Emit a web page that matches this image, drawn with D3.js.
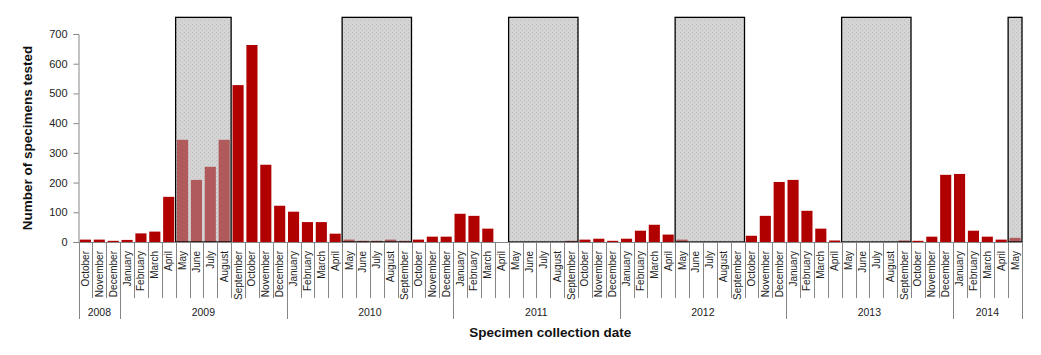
<!DOCTYPE html>
<html>
<head>
<meta charset="utf-8">
<script src="https://cdn.jsdelivr.net/npm/d3@7"></script>
<style>
  html, body { margin: 0; padding: 0; background: #fff; }
  svg { display: block; font-family: "Liberation Sans", Arial, sans-serif; }
</style>
</head>
<body>
<svg id="chart" width="1041" height="355"></svg>
<script>
// ---- data ----
const yearLabels = ["2008", "2009", "2010", "2011", "2012", "2013", "2014"];
const monthsPerYear = [3, 12, 12, 12, 12, 12, 5];
const firstMonthOfYear = [10, 1, 1, 1, 1, 1, 1];
const monthNames = ["January", "February", "March", "April", "May", "June", "July",
  "August", "September", "October", "November", "December"];

const counts = [
  // 2008 Oct-Dec
  8, 8, 4,
  // 2009
  7, 29, 35, 152, 344, 209, 253, 344, 528, 663, 260, 122,
  // 2010
  102, 67, 67, 28, 8, 4, 4, 8, 4, 8, 18, 18,
  // 2011
  95, 88, 45, 0, 0, 0, 0, 0, 4, 8, 11, 4,
  // 2012
  11, 38, 58, 25, 8, 0, 0, 0, 0, 21, 88, 202,
  // 2013
  209, 105, 45, 5, 0, 0, 0, 0, 5, 4, 18, 226,
  // 2014 Jan-May
  229, 38, 18, 8, 14
];

const shadeStart = ["2009-05", "2010-05", "2011-05", "2012-05", "2013-05", "2014-05"];
const shadeEnd   = ["2009-08", "2010-09", "2011-09", "2012-09", "2013-09", "2014-05"];
const shadeTop = 756;

const yTicks = [0, 100, 200, 300, 400, 500, 600, 700];

(function () {
// ---- build month keys ----
const keys = [], keyMonth = {};
yearLabels.forEach((yl, yi) => {
  for (let k = 0; k < monthsPerYear[yi]; k++) {
    const m = firstMonthOfYear[yi] + k;
    const key = yl + "-" + String(m).padStart(2, "0");
    keys.push(key);
    keyMonth[key] = monthNames[m - 1];
  }
});
const data = keys.map((k, i) => ({ key: k, value: counts[i] }));

// ---- layout ----
const svg = d3.select("#chart");
const pLeft = 78.5, pRight = 1022, pTop = 34, pBottom = 242;

const x = d3.scaleBand().domain(keys).range([pLeft, pRight])
  .paddingInner(0.2).paddingOuter(0.1);
const step = x.step();
const bound = k => x(k) - step * 0.1; // left edge of the slot
const y = d3.scaleLinear().domain([0, 700]).range([pBottom, pTop]);

// pattern for shading
const defs = svg.append("defs");
const pat = defs.append("pattern").attr("id", "dots")
  .attr("width", 4).attr("height", 4).attr("patternUnits", "userSpaceOnUse");
pat.append("rect").attr("width", 4).attr("height", 4).attr("fill", "#d4d4d4");
pat.append("rect").attr("x", 0).attr("y", 0).attr("width", 1).attr("height", 1).attr("fill", "#bcbcbc");
pat.append("rect").attr("x", 2).attr("y", 2).attr("width", 1).attr("height", 1).attr("fill", "#c4c4c4");

const periods = shadeStart.map((s, i) => ({ s, e: shadeEnd[i] }));
const inShade = k => periods.some(p => k >= p.s && k <= p.e);

// shading fill
svg.append("g").selectAll("rect").data(periods).join("rect")
  .attr("x", d => bound(d.s))
  .attr("width", d => bound(d.e) + step - bound(d.s))
  .attr("y", y(shadeTop))
  .attr("height", y(0) - y(shadeTop))
  .attr("fill", "url(#dots)");

// bars
svg.append("g").selectAll("rect").data(data).join("rect")
  .attr("x", d => x(d.key))
  .attr("width", x.bandwidth())
  .attr("y", d => y(d.value))
  .attr("height", d => y(0) - y(d.value))
  .attr("fill", d => inShade(d.key) ? "#b05a5c" : "#b00000");

// shading borders
svg.append("g").selectAll("rect").data(periods).join("rect")
  .attr("x", d => bound(d.s))
  .attr("width", d => bound(d.e) + step - bound(d.s))
  .attr("y", y(shadeTop))
  .attr("height", y(0) - y(shadeTop))
  .attr("fill", "none")
  .attr("stroke", "#000")
  .attr("stroke-width", 1.3);

// y axis
const yAxis = svg.append("g").attr("transform", `translate(${pLeft},0)`)
  .call(d3.axisLeft(y).tickValues(yTicks).tickSize(5).tickPadding(6));
yAxis.select(".domain").attr("stroke", "#868686");
yAxis.selectAll(".tick line").attr("stroke", "#868686");
yAxis.selectAll(".tick text").attr("font-size", 11).attr("fill", "#222")
  .attr("font-family", "Liberation Sans, Arial, sans-serif");

// x axis (month labels)
const xAxis = svg.append("g").attr("transform", `translate(0,${pBottom})`)
  .call(d3.axisBottom(x).tickSize(0).tickFormat(k => keyMonth[k]));
xAxis.select(".domain").remove();
xAxis.selectAll(".tick text")
  .attr("font-size", 10)
  .attr("fill", "#222")
  .attr("font-family", "Liberation Sans, Arial, sans-serif")
  .attr("transform", "rotate(-90)")
  .attr("text-anchor", "end")
  .attr("x", -9)
  .attr("y", 0)
  .attr("dy", "0.35em");

// baseline
svg.append("line").attr("x1", pLeft).attr("x2", pRight)
  .attr("y1", pBottom + 0.5).attr("y2", pBottom + 0.5)
  .attr("stroke", "#868686");

// separators
const yearStartKeys = new Set();
let idx = 0;
monthsPerYear.forEach(n => { yearStartKeys.add(keys[idx]); idx += n; });
const seps = keys.map(k => ({ xpos: bound(k), year: yearStartKeys.has(k) }));
seps.push({ xpos: bound(keys[keys.length - 1]) + step, year: true });
svg.append("g").selectAll("line").data(seps).join("line")
  .attr("x1", d => Math.round(d.xpos) + 0.5).attr("x2", d => Math.round(d.xpos) + 0.5)
  .attr("y1", pBottom).attr("y2", d => d.year ? 319 : 298)
  .attr("stroke", "#868686").attr("stroke-width", 1);

// year labels
idx = 0;
const yearPos = yearLabels.map((yl, i) => {
  const a = bound(keys[idx]);
  const b = bound(keys[idx + monthsPerYear[i] - 1]) + step;
  idx += monthsPerYear[i];
  return { yl, cx: (a + b) / 2 };
});
svg.append("g").selectAll("text").data(yearPos).join("text")
  .attr("x", d => d.cx).attr("y", 316)
  .attr("text-anchor", "middle")
  .attr("font-size", 10.5).attr("fill", "#222")
  .text(d => d.yl);

// titles
svg.append("text")
  .attr("x", (pLeft + pRight) / 2).attr("y", 337)
  .attr("text-anchor", "middle")
  .attr("font-size", 13.5).attr("font-weight", "bold").attr("fill", "#111")
  .text("Specimen collection date");

svg.append("text")
  .attr("transform", `translate(32,${(pTop + pBottom) / 2}) rotate(-90)`)
  .attr("text-anchor", "middle")
  .attr("font-size", 13.5).attr("font-weight", "bold").attr("fill", "#111")
  .text("Number of specimens tested");
})();
</script>
</body>
</html>
